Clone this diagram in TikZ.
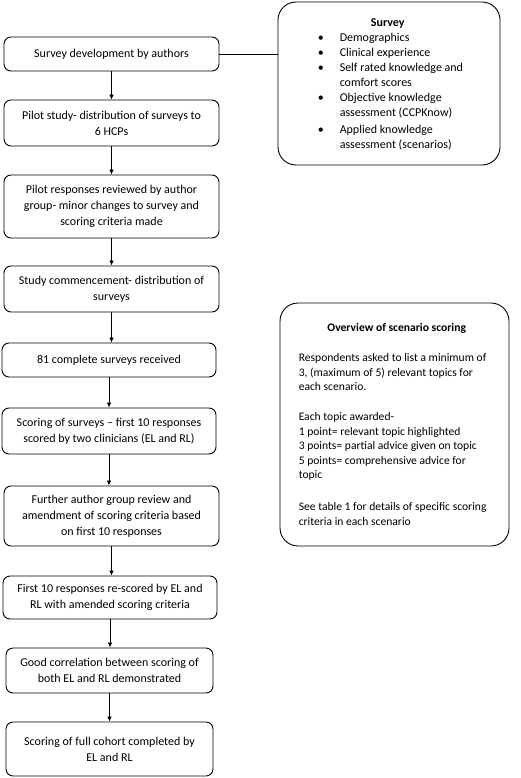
\documentclass[tikz,border=0pt]{standalone}
\usepackage{fontspec}
\setmainfont{Carlito}
\usetikzlibrary{arrows.meta}
\begin{document}
\begin{tikzpicture}[x=1pt,y=-1pt,
  flowbox/.style={draw=black, line width=0.9pt, rounded corners=7pt, align=center,
    font=\fontsize{12}{16}\selectfont, inner sep=0pt},
  sidebox/.style={draw=black, line width=0.9pt, rounded corners=18pt, inner sep=0pt},
  sidetext/.style={align=left, inner sep=0pt, anchor=west},
  arr/.style={line width=0.8pt, -{Latex[length=5pt,width=4.5pt]}},
  link/.style={line width=0.6pt}]
\useasboundingbox (0,0) rectangle (520,778);
\fill[white] (0,0) rectangle (520,778);

\node[flowbox, minimum width=215pt, minimum height=34pt] (b1) at (111.5,54) {Survey development by authors};
\node[flowbox, minimum width=215pt, minimum height=46pt] (b2) at (111.5,123) {Pilot study- distribution of surveys to\\6 HCPs};
\node[flowbox, minimum width=215pt, minimum height=63pt] (b3) at (111.5,206.5) {Pilot responses reviewed by author\\group- minor changes to survey and\\scoring criteria made};
\node[flowbox, minimum width=215pt, minimum height=46pt] (b4) at (111.5,289) {Study commencement- distribution of\\surveys};
\node[flowbox, minimum width=214pt, minimum height=34pt] (b5) at (109,360) {81 complete surveys received};
\node[flowbox, minimum width=214pt, minimum height=46pt] (b6) at (109,431) {Scoring of surveys – first 10 responses\\scored by two clinicians (EL and RL)};
\node[flowbox, minimum width=215pt, minimum height=60pt] (b7) at (111.5,516) {Further author group review and\\amendment of scoring criteria based\\on first 10 responses};
\node[flowbox, minimum width=214pt, minimum height=43pt] (b8) at (110,597.5) {First 10 responses re-scored by EL and\\RL with amended scoring criteria};
\node[flowbox, minimum width=207pt, minimum height=45pt] (b9) at (109.5,670.5) {Good correlation between scoring of\\both EL and RL demonstrated};
\node[flowbox, minimum width=207pt, minimum height=54pt] (b10) at (109.5,749) {Scoring of full cohort completed by\\EL and RL};

\foreach \a/\b in {b1/b2,b2/b3,b3/b4,b4/b5,b5/b6,b6/b7,b7/b8,b8/b9,b9/b10}
  \draw[arr] (\a.south) -- (\a.south |- \b.north);

\node[sidebox, minimum width=222pt, minimum height=163pt] (survey) at (389,83.5) {};
\node[sidetext, font=\fontsize{12}{15}\selectfont, xshift=40pt, yshift=-1pt] (surveytext) at (survey.west) {%
  \makebox[140pt][c]{\textbf{Survey}}\\
  \makebox[22pt][l]{\textbullet}Demographics\\
  \makebox[22pt][l]{\textbullet}Clinical experience\\
  \makebox[22pt][l]{\textbullet}Self rated knowledge and\\
  \hspace*{22pt}comfort scores\\
  \makebox[22pt][l]{\textbullet}Objective knowledge\\
  \hspace*{22pt}assessment (CCPKnow)\\[2pt]
  \makebox[22pt][l]{\textbullet}Applied knowledge\\
  \hspace*{22pt}assessment (scenarios)};

\draw[link] (b1.east) -- (survey.west |- b1.east);

\node[sidebox, minimum width=229pt, minimum height=243pt] (overview) at (394.5,424.5) {};
\node[sidetext, font=\fontsize{11.6}{14.5}\selectfont, xshift=19pt] (overviewtext) at (overview.west) {%
  \makebox[196pt][c]{\textbf{Overview of scenario scoring}}\\[15.5pt]
  Respondents asked to list a minimum of\\
  3, (maximum of 5) relevant topics for\\
  each scenario.\\[15.5pt]
  Each topic awarded-\\
  1 point= relevant topic highlighted\\
  3 points= partial advice given on topic\\
  5 points= comprehensive advice for\\
  topic\\[17.5pt]
  See table 1 for details of specific scoring\\
  criteria in each scenario};
\end{tikzpicture}
\end{document}
